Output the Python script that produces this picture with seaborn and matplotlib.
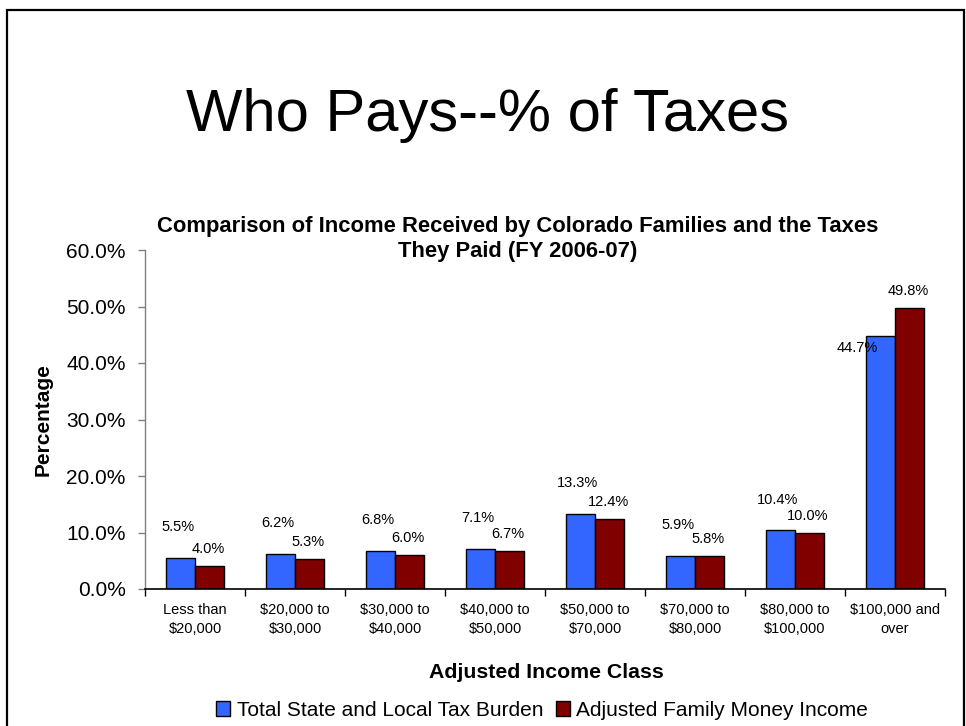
import matplotlib
matplotlib.use('Agg')
import matplotlib.pyplot as plt
import seaborn as sns
import pandas as pd
from matplotlib.patches import Rectangle
from matplotlib.ticker import FixedLocator, FuncFormatter

# dati
categories = ['Less than\n$20,000', '$20,000 to\n$30,000', '$30,000 to\n$40,000',
              '$40,000 to\n$50,000', '$50,000 to\n$70,000', '$70,000 to\n$80,000',
              '$80,000 to\n$100,000', '$100,000 and\nover']
tax_burden = [5.5, 6.2, 6.8, 7.1, 13.3, 5.9, 10.4, 44.7]
family_income = [4.0, 5.3, 6.0, 6.7, 12.4, 5.8, 10.0, 49.8]
series_names = ['Total State and Local Tax Burden', 'Adjusted Family Money Income']
colors = ['#3366FF', '#800000']
y_ticks = [0, 10, 20, 30, 40, 50, 60]

df = pd.DataFrame({
    'Income Class': categories * 2,
    'Percentage': tax_burden + family_income,
    'Series': [series_names[0]] * len(categories) + [series_names[1]] * len(categories),
})

sns.set_style('white')
plt.rcParams['font.family'] = ['Liberation Sans', 'DejaVu Sans']
plt.rcParams['text.color'] = 'black'
plt.rcParams['axes.labelcolor'] = 'black'
plt.rcParams['xtick.color'] = 'black'
plt.rcParams['ytick.color'] = 'black'

W, H = 966, 726
fig = plt.figure(figsize=(W / 100, H / 100), dpi=100)
ax = fig.add_axes([145 / W, 1 - 589 / H, 800 / W, 339 / H])

sns.barplot(data=df, x='Income Class', y='Percentage', hue='Series',
            palette=colors, saturation=1, width=0.58, edgecolor='black',
            linewidth=1, errorbar=None, ax=ax)

ax.set_xlim(-0.5, len(categories) - 0.5)
ax.set_ylim(0, 60)
ax.yaxis.set_major_locator(FixedLocator(y_ticks))
ax.yaxis.set_major_formatter(FuncFormatter(lambda v, p: f'{v:.1f}%'))
ax.tick_params(axis='y', length=5, width=1, color='#808080', labelcolor='black',
               pad=9, labelsize=15, left=True)
ax.tick_params(axis='x', which='major', length=0, pad=10, labelsize=10.5, labelcolor='black')
ax.xaxis.set_minor_locator(FixedLocator([i - 0.5 for i in range(len(categories) + 1)]))
ax.tick_params(axis='x', which='minor', length=5, width=1, color='black', bottom=True)
for lab in ax.get_xticklabels():
    lab.set_linespacing(1.5)

for s in ['top', 'right']:
    ax.spines[s].set_visible(False)
ax.spines['left'].set_color('#808080')
ax.spines['bottom'].set_color('black')
ax.spines['left'].set_linewidth(1)
ax.spines['bottom'].set_linewidth(1.2)

ax.set_xlabel('')
ax.set_ylabel('')

# etichette dei valori
blue_bars = ax.containers[0]
red_bars = ax.containers[1]
for i, (b, r) in enumerate(zip(blue_bars, red_bars)):
    bx = b.get_x() + b.get_width() / 2
    rx = r.get_x() + r.get_width() / 2
    if family_income[i] - tax_burden[i] > 3:
        # la barra rossa copre l'etichetta: la sposto a sinistra
        ax.annotate(f'{tax_burden[i]:.1f}%', (bx, tax_burden[i]), xytext=(-17, -8),
                    textcoords='offset points', ha='center', va='center', fontsize=10.5)
    else:
        ax.annotate(f'{tax_burden[i]:.1f}%', (bx, tax_burden[i]), xytext=(-2, 22),
                    textcoords='offset points', ha='center', va='center', fontsize=10.5)
    ax.annotate(f'{family_income[i]:.1f}%', (rx, family_income[i]), xytext=(-1, 12.2),
                textcoords='offset points', ha='center', va='center', fontsize=10.5)

# titoli
fig.text(487 / W, 1 - 131 / H, 'Who Pays--% of Taxes', ha='center', va='baseline',
         fontsize=43)
fig.text(518 / W, 1 - 239 / H, 'Comparison of Income Received by Colorado Families and the Taxes\nThey Paid (FY 2006-07)',
         ha='center', va='center', fontsize=15.8, fontweight='bold', linespacing=1.3)
fig.text(43 / W, 1 - 420 / H, 'Percentage', ha='center', va='center', rotation=90,
         fontsize=15, fontweight='bold')
fig.text(546 / W, 1 - 672 / H, 'Adjusted Income Class', ha='center', va='center',
         fontsize=15.3, fontweight='bold')

# legenda
handles, labels = ax.get_legend_handles_labels()
ax.legend_.remove()
fig.legend(handles, labels, loc='center', bbox_to_anchor=(542 / W, 1 - 710 / H), ncol=2,
           frameon=False, fontsize=15, handlelength=0.7, handleheight=0.7,
           handletextpad=0.3, columnspacing=0.6, borderpad=0)

# bordo della slide
fig.add_artist(Rectangle((7 / W, -0.1), (964 - 7) / W, 1.1 - 10 / H, transform=fig.transFigure,
                         fill=False, edgecolor='black', linewidth=1.6))

fig.savefig('out.png', dpi=100)
